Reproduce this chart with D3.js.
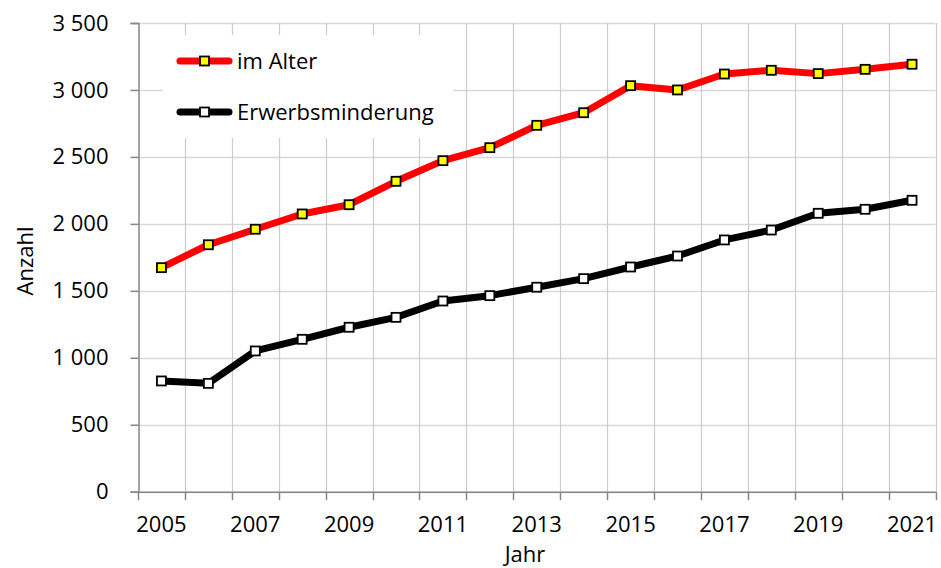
<!DOCTYPE html>
<html>
<head>
<meta charset="utf-8">
<script src="https://cdn.jsdelivr.net/npm/d3@7"></script>
<style>
  body { margin: 0; background: #fff; }
  svg text { font-family: "Open Sans", "Noto Sans", sans-serif; fill: #000; }
</style>
</head>
<body>
<div id="chart"></div>
<script>
const years = ['2005', '2006', '2007', '2008', '2009', '2010', '2011', '2012', '2013',
  '2014', '2015', '2016', '2017', '2018', '2019', '2020', '2021'];
const imAlter = [1673, 1844, 1960, 2074, 2143, 2318, 2472, 2569, 2736,
  2830, 3032, 3000, 3119, 3147, 3122, 3154, 3192];
const erwerbsminderung = [827, 809, 1051, 1138, 1228, 1302, 1424, 1464, 1527,
  1591, 1678, 1760, 1880, 1954, 2079, 2109, 2176];
const yTicks = [0, 500, 1000, 1500, 2000, 2500, 3000, 3500];
const xLabels = ['2005', '2007', '2009', '2011', '2013', '2015', '2017', '2019', '2021'];

const width = 941;
const height = 568;
const margin = {top: 23, right: 5, bottom: 76, left: 138};

const series = [
  {name: 'im Alter', values: imAlter, line: '#ff0000', fill: '#ffff00'},
  {name: 'Erwerbsminderung', values: erwerbsminderung, line: '#000000', fill: '#ffffff'}
];

const fmt = d3.formatLocale({decimal: ',', thousands: ' ', grouping: [3], currency: ['', '€']}).format(',d');

const svg = d3.select('#chart')
    .append('svg')
    .attr('width', width)
    .attr('height', height);

const x = d3.scaleBand()
    .domain(years)
    .range([margin.left, width - margin.right - 0.5]);

const y = d3.scaleLinear()
    .domain([0, 3500])
    .range([height - margin.bottom - 0.3, margin.top]);

// gridlines
svg.append('g')
    .selectAll('line')
    .data(yTicks)
    .enter()
    .append('line')
    .attr('x1', margin.left)
    .attr('x2', x.range()[1])
    .attr('y1', (d) => Math.round(y(d)) + 0.5)
    .attr('y2', (d) => Math.round(y(d)) + 0.5)
    .attr('stroke', '#d9d9d9')
    .attr('stroke-width', 1.5);

const bounds = years.map((d) => x(d) + x.bandwidth()).slice(0);
svg.append('g')
    .selectAll('line')
    .data(bounds)
    .enter()
    .append('line')
    .attr('x1', (d) => Math.round(d) + 0.5)
    .attr('x2', (d) => Math.round(d) + 0.5)
    .attr('y1', y(0))
    .attr('y2', y(3500))
    .attr('stroke', '#cccccc')
    .attr('stroke-width', 1.2);

// y axis
const yAxis = svg.append('g')
    .attr('transform', 'translate(' + (margin.left + 0.5) + ',0)')
    .call(d3.axisLeft(y).tickValues(yTicks).tickFormat(fmt).tickSize(8).tickPadding(22));
yAxis.selectAll('text').style('font-size', '22px');
yAxis.selectAll('line, path').attr('stroke', '#868686').attr('stroke-width', 1.5);

// x axis: ticks on band boundaries, labels on band centers
const xAxisG = svg.append('g')
    .attr('transform', 'translate(0,' + (y(0) + 0.5) + ')');
xAxisG.append('line')
    .attr('x1', margin.left)
    .attr('x2', x.range()[1] + 1)
    .attr('stroke', '#868686')
    .attr('stroke-width', 1.5);
xAxisG.selectAll('.tick')
    .data([margin.left].concat(bounds))
    .enter()
    .append('line')
    .attr('class', 'tick')
    .attr('x1', (d) => Math.round(d) + 0.5)
    .attr('x2', (d) => Math.round(d) + 0.5)
    .attr('y1', 0)
    .attr('y2', 8)
    .attr('stroke', '#868686')
    .attr('stroke-width', 1.5);
xAxisG.selectAll('.lbl')
    .data(xLabels)
    .enter()
    .append('text')
    .attr('class', 'lbl')
    .attr('x', (d) => x(d) + x.bandwidth() / 2)
    .attr('y', 40)
    .attr('text-anchor', 'middle')
    .style('font-size', '22px')
    .text((d) => d);

// axis titles
svg.append('text')
    .attr('transform', 'translate(33,261) rotate(-90)')
    .attr('text-anchor', 'middle')
    .style('font-size', '22px')
    .text('Anzahl');

svg.append('text')
    .attr('x', 525)
    .attr('y', 562)
    .attr('text-anchor', 'middle')
    .style('font-size', '22px')
    .text('Jahr');

// legend background
const legend = svg.append('g');
legend.append('rect')
    .attr('x', 163)
    .attr('y', 35)
    .attr('width', 290)
    .attr('height', 103)
    .attr('fill', '#fff');

// lines
const line = d3.line()
    .x((d, i) => x(years[i]) + x.bandwidth() / 2)
    .y((d) => y(d));

series.forEach((s) => {
  svg.append('path')
      .datum(s.values)
      .attr('d', line)
      .attr('fill', 'none')
      .attr('stroke', s.line)
      .attr('stroke-width', 7)
      .attr('stroke-linejoin', 'round');

  svg.append('g')
      .selectAll('rect')
      .data(s.values)
      .enter()
      .append('rect')
      .attr('x', (d, i) => x(years[i]) + x.bandwidth() / 2 - 4.5)
      .attr('y', (d) => y(d) - 4.5)
      .attr('width', 9)
      .attr('height', 9)
      .attr('fill', s.fill)
      .attr('stroke', '#000')
      .attr('stroke-width', 1.8);
});

// legend items
series.forEach((s, i) => {
  const ly = 61 + i * 51;
  legend.append('line')
      .attr('x1', 180)
      .attr('x2', 229)
      .attr('y1', ly)
      .attr('y2', ly)
      .attr('stroke', s.line)
      .attr('stroke-width', 7)
      .attr('stroke-linecap', 'round');
  legend.append('rect')
      .attr('x', 200)
      .attr('y', ly - 4.5)
      .attr('width', 9)
      .attr('height', 9)
      .attr('fill', s.fill)
      .attr('stroke', '#000')
      .attr('stroke-width', 1.8);
  legend.append('text')
      .attr('x', 237)
      .attr('y', ly + 8)
      .style('font-size', '22px')
      .text(s.name);
});
</script>
</body>
</html>
